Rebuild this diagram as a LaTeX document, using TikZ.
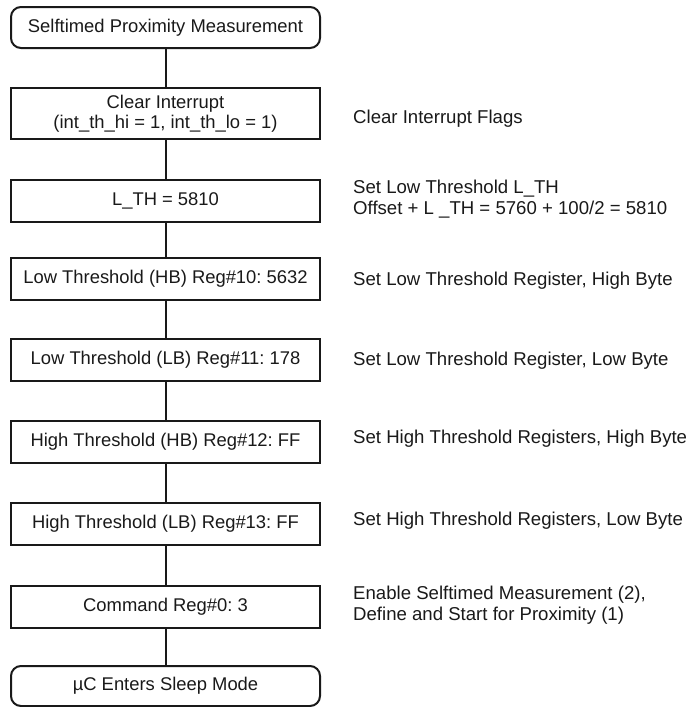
\documentclass[tikz,border=0pt]{standalone}
\usepackage{fontspec}
\setmainfont{Liberation Sans}
\frenchspacing
\begin{document}
\begin{tikzpicture}[x=1pt,y=-1pt,
  every node/.style={font=\fontsize{18.6}{21.5}\selectfont, text=black!90},
  box/.style={draw=black!90, line width=2pt, minimum width=309pt, minimum height=42pt, inner sep=0pt, align=center, font=\fontsize{18.4}{20}\selectfont},
  term/.style={box, rounded corners=10pt, minimum height=41pt},
  note/.style={anchor=west, inner sep=0pt, align=left},
  link/.style={draw=black!90, line width=2pt}]
\useasboundingbox (0,0) rectangle (689,707);
\node[term] (b1) at (165.5,27.5) {Selftimed Proximity Measurement};
\node[box, minimum height=51pt] (b2) at (165.5,113.5) {Clear Interrupt\\(int\_th\_hi = 1, int\_th\_lo = 1)};
\node[box] (b3) at (165.5,201) {L\_TH = 5810};
\node[box] (b4) at (165.5,279) {Low Threshold (HB) Reg\#10: 5632};
\node[box] (b5) at (165.5,360) {Low Threshold (LB) Reg\#11: 178};
\node[box] (b6) at (165.5,442) {High Threshold (HB) Reg\#12: FF};
\node[box] (b7) at (165.5,523.5) {High Threshold (LB) Reg\#13: FF};
\node[box] (b8) at (165.5,607) {Command Reg\#0: 3};
\node[term, minimum height=40pt] (b9) at (165.5,686) {µC Enters Sleep Mode};
\foreach \a/\b in {b1/b2,b2/b3,b3/b4,b4/b5,b5/b6,b6/b7,b7/b8,b8/b9}
  \draw[link] (\a) -- (\b);
\node[note] (n2) at (353,119) {Clear Interrupt Flags};
\node[note] (n3) at (353,199) {Set Low Threshold L\_TH\\Offset + L \_TH = 5760 + 100/2 = 5810};
\node[note] (n4) at (353,281) {Set Low Threshold Register, High Byte};
\node[note] (n5) at (353,361) {Set Low Threshold Register, Low Byte};
\node[note] (n6) at (353,439) {Set High Threshold Registers, High Byte};
\node[note] (n7) at (353,521) {Set High Threshold Registers, Low Byte};
\node[note] (n8) at (353,605) {Enable Selftimed Measurement (2),\\Define and Start for Proximity (1)};
\end{tikzpicture}
\end{document}
